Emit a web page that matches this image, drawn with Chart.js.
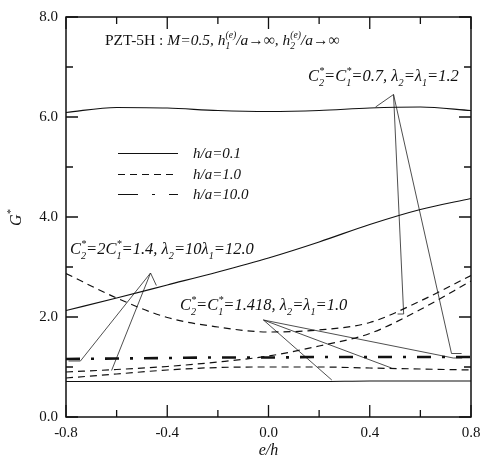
<!DOCTYPE html>
<html>
<head>
<meta charset="utf-8">
<script src="https://cdn.jsdelivr.net/npm/chart.js@4"></script>
<style>
  html, body { margin: 0; padding: 0; background: #fff; }
  #c { display: block; }
</style>
</head>
<body>
<canvas id="c" width="491" height="462"></canvas>
<script>
// e/h positions shared by every curve
const eh = [-0.8, -0.6, -0.4, -0.2, 0.0, 0.2, 0.4, 0.6, 0.8];

// h/a = 0.1 (solid)
const solidTop = [6.09, 6.19, 6.18, 6.13, 6.11, 6.13, 6.18, 6.2, 6.13];
const solidMid = [2.13, 2.38, 2.64, 2.9, 3.18, 3.5, 3.85, 4.15, 4.37];
const solidLow = [0.71, 0.71, 0.71, 0.71, 0.71, 0.71, 0.72, 0.72, 0.72];

// h/a = 1.0 (dashed)
const dashU = [2.87, 2.38, 1.99, 1.8, 1.7, 1.74, 1.89, 2.32, 2.83];
const dashRise = [0.9, 0.95, 1.01, 1.1, 1.22, 1.42, 1.67, 2.15, 2.72];
const dashLow = [0.78, 0.86, 0.94, 0.99, 1.0, 1.0, 0.98, 0.96, 0.94];

// h/a = 10.0 (dash-dot)
const dashDot = [1.16, 1.17, 1.18, 1.19, 1.19, 1.2, 1.2, 1.2, 1.2];

// tick labels
const xTicks = [-0.8, -0.4, 0.0, 0.4, 0.8];
const xMinor = [-0.6, -0.2, 0.2, 0.6];
const yTicks = [0, 2, 4, 6, 8];
const yMinor = [1, 3, 5, 7];

// leader lines of the three annotations, in data units
const leadA = [
  [[0.423, 6.2], [0.494, 6.45]],
  [[0.494, 6.45], [0.534, 2.06], [0.51, 2.06]],
  [[0.494, 6.45], [0.723, 1.27], [0.763, 1.27]]
];
const leadB = [
  [[-0.443, 2.63], [-0.466, 2.88]],
  [[-0.466, 2.88], [-0.743, 1.12], [-0.79, 1.12]],
  [[-0.466, 2.88], [-0.62, 0.93]]
];
const leadC = [
  [[-0.02, 1.94], [0.25, 0.74]],
  [[-0.02, 1.94], [0.486, 0.98]],
  [[-0.02, 1.94], [0.73, 1.18], [0.765, 1.18]]
];

const pts = ys => eh.map((x, i) => ({ x: x, y: ys[i] }));

function curve(ys, dash, w) {
  return {
    data: pts(ys),
    borderColor: '#111',
    borderWidth: w || 1.2,
    borderDash: dash || [],
    pointRadius: 0,
    cubicInterpolationMode: 'monotone',
    fill: false
  };
}

const datasets = [
  curve(solidTop), curve(solidMid), curve(solidLow),
  curve(dashU, [7, 5]), curve(dashRise, [7, 5]), curve(dashLow, [7, 5]),
  curve(dashDot, [14, 11, 3, 11], 2.6)
];

[leadA, leadB, leadC].forEach(group => group.forEach(seg => {
  datasets.push({
    data: seg.map(p => ({ x: p[0], y: p[1] })),
    borderColor: '#222',
    borderWidth: 0.8,
    pointRadius: 0,
    tension: 0,
    fill: false
  });
}));

const SERIF = '"Liberation Serif", "DejaVu Serif", serif';

// draws text made of parts: r roman, i italic, sb subscript, sp superscript,
// ss superscript stacked over the previous subscript
function rich(ctx, x, y, parts, size) {
  let cx = x, subStart = x, subEnd = x;
  parts.forEach(([t, k]) => {
    let s = size, dy = 0, it = true;
    if (k === 'r') it = false;
    if (k === 'sb') { s = size * 0.62; dy = size * 0.28; }
    if (k === 'sp' || k === 'ss') { s = size * 0.62; dy = -size * 0.42; }
    ctx.font = (it ? 'italic ' : '') + s + 'px ' + SERIF;
    if (k === 'ss') cx = subStart;
    const w = ctx.measureText(t).width;
    ctx.fillText(t, cx, y + dy);
    if (k === 'sb') { subStart = cx; subEnd = cx + w; }
    cx += w;
    if (k === 'ss') cx = Math.max(cx, subEnd);
  });
}

const decor = {
  id: 'decor',
  afterDraw(chart) {
    const { ctx, chartArea: a, scales: { x, y } } = chart;
    ctx.save();
    ctx.strokeStyle = '#111';
    ctx.fillStyle = '#111';
    // frame
    ctx.lineWidth = 1.5;
    ctx.strokeRect(a.left, a.top, a.right - a.left, a.bottom - a.top);
    // inward ticks on all sides
    ctx.lineWidth = 1.3;
    ctx.beginPath();
    const xt = (v, len) => {
      const px = x.getPixelForValue(v);
      ctx.moveTo(px, a.bottom); ctx.lineTo(px, a.bottom - len);
      ctx.moveTo(px, a.top); ctx.lineTo(px, a.top + len);
    };
    const yt = (v, len) => {
      const py = y.getPixelForValue(v);
      ctx.moveTo(a.left, py); ctx.lineTo(a.left + len, py);
      ctx.moveTo(a.right, py); ctx.lineTo(a.right - len, py);
    };
    xTicks.forEach(v => xt(v, 12));
    xMinor.forEach(v => xt(v, 7));
    yTicks.forEach(v => yt(v, 12));
    yMinor.forEach(v => yt(v, 7));
    ctx.stroke();

    ctx.textBaseline = 'alphabetic';
    ctx.textAlign = 'left';
    // header
    rich(ctx, 105, 45, [
      ['PZT-5H : ', 'r'], ['M=0.5, h', 'i'], ['1', 'sb'], ['(e)', 'ss'],
      ['/a\u2192\u221E, h', 'i'], ['2', 'sb'], ['(e)', 'ss'], ['/a\u2192\u221E', 'i']
    ], 15.5);
    // annotations
    rich(ctx, 308, 81, [
      ['C', 'i'], ['2', 'sb'], ['*', 'ss'], ['=C', 'i'], ['1', 'sb'], ['*', 'ss'],
      ['=0.7, \u03BB', 'i'], ['2', 'sb'], ['=\u03BB', 'i'], ['1', 'sb'], ['=1.2', 'i']
    ], 16.5);
    rich(ctx, 70, 254, [
      ['C', 'i'], ['2', 'sb'], ['*', 'ss'], ['=2C', 'i'], ['1', 'sb'], ['*', 'ss'],
      ['=1.4, \u03BB', 'i'], ['2', 'sb'], ['=10\u03BB', 'i'], ['1', 'sb'], ['=12.0', 'i']
    ], 16.5);
    rich(ctx, 180, 310, [
      ['C', 'i'], ['2', 'sb'], ['*', 'ss'], ['=C', 'i'], ['1', 'sb'], ['*', 'ss'],
      ['=1.418, \u03BB', 'i'], ['2', 'sb'], ['=\u03BB', 'i'], ['1', 'sb'], ['=1.0', 'i']
    ], 16.5);

    // legend
    const leg = [
      ['h/a=0.1', [], 1.0, 153],
      ['h/a=1.0', [7, 5], 1.0, 174],
      ['h/a=10.0', [20, 14, 3, 14], 1.0, 194]
    ];
    leg.forEach(([t, d, w, ly]) => {
      ctx.lineWidth = w;
      ctx.setLineDash(d);
      ctx.beginPath(); ctx.moveTo(118, ly + 0.5); ctx.lineTo(178, ly + 0.5); ctx.stroke();
      ctx.setLineDash([]);
      ctx.font = 'italic 15px ' + SERIF;
      ctx.fillText(t, 193, ly + 5);
    });

    // axis titles
    ctx.font = 'italic 16px ' + SERIF;
    ctx.textAlign = 'center';
    ctx.fillText('e/h', (a.left + a.right) / 2, 455);
    ctx.translate(21, 220);
    ctx.rotate(-Math.PI / 2);
    ctx.textAlign = 'left';
    rich(ctx, -6, 0, [['G', 'i'], ['*', 'sp']], 16);
    ctx.restore();
  }
};

new Chart(document.getElementById('c'), {
  type: 'line',
  data: { datasets: datasets },
  options: {
    responsive: false,
    animation: false,
    layout: { padding: { top: 7, right: 20, left: 0, bottom: 0 } },
    plugins: { legend: { display: false }, tooltip: { enabled: false } },
    scales: {
      x: {
        type: 'linear',
        min: -0.8, max: 0.8,
        afterFit: s => { s.height = 45; },
        afterBuildTicks: s => { s.ticks = xTicks.map(v => ({ value: v })); },
        grid: { display: false, drawTicks: false },
        border: { display: false },
        ticks: {
          padding: 7,
          color: '#111',
          font: { family: SERIF, size: 15 },
          callback: v => v.toFixed(1),
          maxRotation: 0
        }
      },
      y: {
        min: 0, max: 8,
        afterFit: s => { s.width = 66; },
        afterBuildTicks: s => { s.ticks = yTicks.map(v => ({ value: v })); },
        grid: { display: false, drawTicks: false },
        border: { display: false },
        ticks: {
          padding: 8,
          color: '#111',
          font: { family: SERIF, size: 15 },
          callback: v => v.toFixed(1)
        }
      }
    }
  },
  plugins: [decor]
});
</script>
</body>
</html>
